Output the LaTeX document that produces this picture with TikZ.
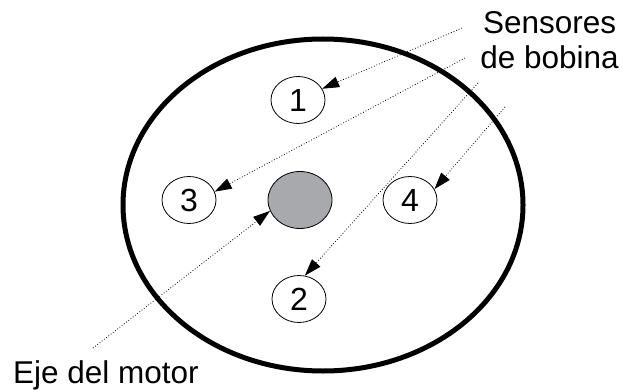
\documentclass[tikz,border=0pt]{standalone}
\usepackage{fontspec}
\setmainfont{Liberation Sans}
\usetikzlibrary{arrows.meta,shapes.geometric}
\definecolor{shaftgray}{RGB}{167,169,172}

\begin{document}
\begin{tikzpicture}[x=1pt, y=-1pt, >={Triangle[length=17pt,width=11pt]},
  sensor/.style={draw, ellipse, line width=0.8pt, inner sep=0pt, minimum width=54pt, minimum height=47pt, font=\fontsize{32}{32}\selectfont},
  guide/.style={->, dotted, line width=0.8pt},
  label/.style={inner sep=0pt, font=\fontsize{31.5}{35}\selectfont}]
\useasboundingbox (0,0) rectangle (623,390);
% housing
\draw[line width=5pt] (323,205) ellipse [x radius=200pt, y radius=166pt];
% coils and shaft
\node[sensor] (s1) at (298,100) {1};
\node[sensor] (s3) at (189,200) {3};
\node[sensor] (s4) at (410,200) {4};
\node[sensor] (s2) at (299,299) {2};
\node[sensor, fill=shaftgray, minimum width=64pt, minimum height=57pt] (eje) at (300,200) {};
% labels
\node[label, anchor=north east, align=center] (sens) at (619,11) {Sensores\\de bobina};
\node[label, anchor=base west] (motor) at (13,383) {Eje del motor};
\coordinate (a1) at (462,28);
\coordinate (a3) at (465,58);
\coordinate (a2) at (478,83);
\coordinate (a4) at (505,107);
\coordinate (a0) at (93,348);
\draw[guide] (a1) -- (s1.25);
\draw[guide] (a3) -- (s3.18);
\draw[guide] (a2) -- (s2.76);
\draw[guide] (a4) -- (s4.24);
\draw[guide] (a0) -- (eje.200);
\end{tikzpicture}
\end{document}
